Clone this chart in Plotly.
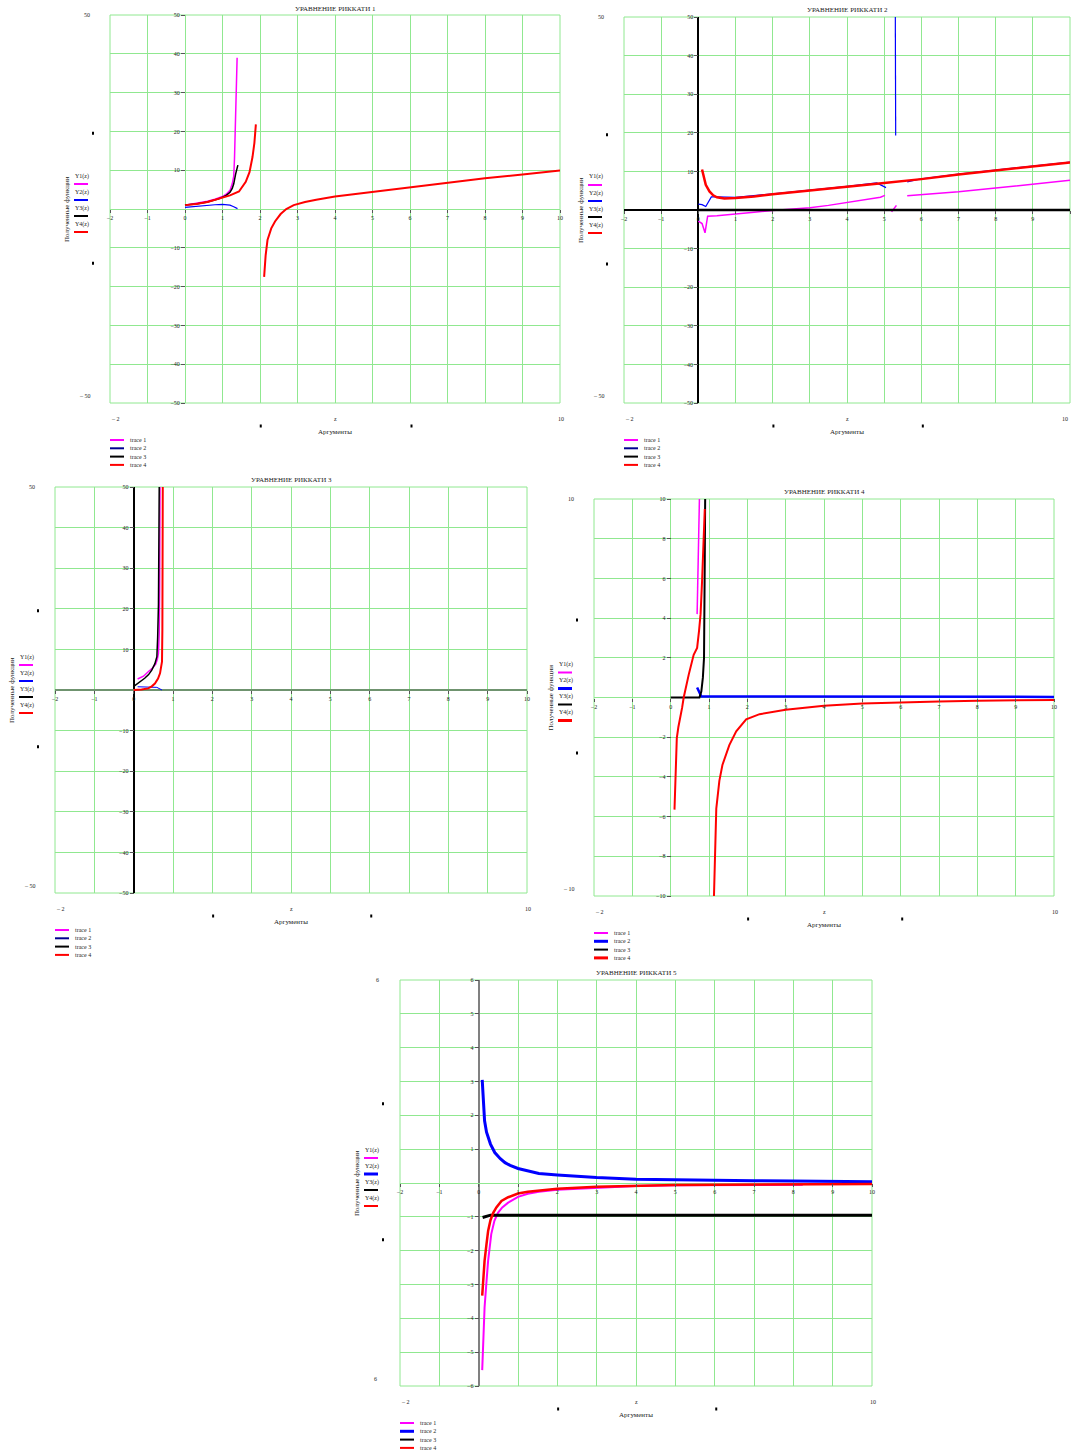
import plotly.graph_objects as go

FIG_W, FIG_H = 1072, 1454

# ------------------------------------------------------------------ data
# Plot 1
p1_y1_x = [0, 0.2, 0.4, 0.6, 0.8, 1.0, 1.1, 1.2, 1.26, 1.3, 1.32, 1.35, 1.37, 1.39]
p1_y1_y = [1.0, 1.3, 1.6, 2.0, 2.5, 3.2, 3.8, 4.8, 6.5, 8.5, 13, 22, 30, 39]
p1_y2_x = [0, 0.2, 0.4, 0.6, 0.8, 1.0, 1.1, 1.2, 1.3, 1.4]
p1_y2_y = [0.4, 0.6, 0.8, 1.0, 1.1, 1.2, 1.1, 1.0, 0.6, 0.1]
p1_y3_x = [0, 0.3, 0.6, 0.9, 1.1, 1.2, 1.26, 1.3, 1.35, 1.38, 1.41]
p1_y3_y = [1.0, 1.3, 1.8, 2.6, 3.5, 4.3, 5.3, 6.5, 9.0, 10.5, 11.3]
p1_y4_x = [0, 0.3, 0.6, 0.9, 1.2, 1.44, 1.62, 1.72, 1.8, 1.85, 1.89, None,
           2.11, 2.15, 2.2, 2.3, 2.4, 2.55, 2.7, 2.9, 3.2, 3.5, 4, 5, 6, 7, 8, 9, 10]
p1_y4_y = [1.0, 1.3, 1.8, 2.6, 3.5, 4.5, 7.0, 9.5, 13.4, 17, 21.8, None,
           -17.5, -12, -8, -5, -3.2, -1.3, 0, 1.0, 1.8, 2.4, 3.2, 4.4, 5.6, 6.8, 7.9, 8.9, 9.9]

# Plot 2
p2_y1_x = [0, 0.1, 0.18, 0.25, 0.5, 1, 1.5, 2, 2.5, 3, 3.5, 4, 4.5, 4.9, 5.02, None,
           5.2, 5.33, None, 5.62, 6, 7, 8, 9, 10]
p2_y1_y = [-2.9, -3.5, -5.9, -1.6, -1.5, -1.1, -0.6, -0.1, 0.2, 0.6, 1.2, 1.9, 2.6, 3.3, 3.8, None,
           -0.5, 1.2, None, 3.7, 4.0, 4.7, 5.7, 6.7, 7.7]
p2_y2_x = [0, 0.1, 0.2, 0.3, 0.35, 0.5, 1, 2, 3, 4, 4.8, 4.97, 5.05, None,
           5.31, 5.31, 5.30, 5.30, None, 5.62, 6, 7, 8, 9, 10]
p2_y2_y = [1.5, 1.4, 0.9, 2.5, 3.4, 3.4, 3.3, 4.2, 5.1, 6.1, 7.0, 6.2, 5.8, None,
           19.3, 38, 39, 50, None, 7.3, 8.1, 9.3, 10.3, 11.3, 12.4]
p2_y3_x = [0, 10]
p2_y3_y = [0, 0]
p2_y4_x = [0.1, 0.15, 0.2, 0.3, 0.4, 0.5, 0.7, 1.0, 1.5, 2, 3, 4, 5, 6, 7, 8, 9, 10]
p2_y4_y = [10.5, 8.5, 6.5, 4.8, 3.8, 3.3, 3.0, 3.1, 3.5, 4.1, 5.0, 6.0, 7.0, 8.0, 9.2, 10.2, 11.3, 12.3]

# Plot 3
p3_y1_x = [0.1, 0.25, 0.37, 0.48, 0.56, 0.6, 0.63, 0.65, 0.66, 0.67]
p3_y1_y = [2.7, 3.4, 4.5, 5.4, 6.4, 7.5, 9, 14, 25, 50]
p3_y2_x = [0.1, 0.3, 0.5, 0.59, 0.72]
p3_y2_y = [0.8, 0.8, 0.7, 0.65, 0.0]
p3_y3_x = [0.02, 0.15, 0.28, 0.38, 0.46, 0.54, 0.59, 0.61, 0.63, 0.65]
p3_y3_y = [1.0, 1.9, 2.9, 3.8, 4.9, 6.5, 8.2, 13, 21, 50]
p3_y4_x = [0, 0.2, 0.37, 0.46, 0.54, 0.62, 0.67, 0.7, 0.72, 0.73, 0.74]
p3_y4_y = [0, 0.1, 0.4, 0.9, 1.6, 2.8, 4.1, 5.5, 7, 15, 50]

# Plot 4
p4_y1_x = [0.69, 0.70, 0.71, 0.72, 0.735, 0.75]
p4_y1_y = [4.2, 5.3, 6.2, 7.5, 8.8, 10]
p4_y2_x = [0.69, 0.72, 0.75, 0.78, 0.8, 1, 2, 3, 4, 4.5, 5, 6, 7, 8, 9, 10]
p4_y2_y = [0.5, 0.35, 0.2, 0.08, 0.05, 0.05, 0.05, 0.05, 0.05, 0.02, 0.03, 0.03, 0.02, 0.03, 0.05, 0.03]
p4_y3_x = [0, 0.4, 0.75, 0.8, 0.84, 0.87, 0.88, 0.89, 0.9]
p4_y3_y = [0, 0, 0, 0.3, 1.0, 2.0, 3.5, 7, 10]
p4_y4_x = [0.1, 0.13, 0.16, 0.2, 0.25, 0.3, 0.34, 0.4, 0.47, 0.6, 0.69, 0.74, 0.78, 0.82, 0.87, 0.89, None,
           1.13, 1.16, 1.19, 1.27, 1.35, 1.53, 1.71, 1.97, 2.32, 3, 4, 5, 6, 7, 8, 9, 10]
p4_y4_y = [-5.65, -4.0, -2.05, -1.5, -1.04, -0.5, 0, 0.6, 1.14, 2.15, 2.5, 3.36, 4.2, 5.9, 8.4, 9.5, None,
           -10, -7.2, -5.6, -4.2, -3.4, -2.4, -1.7, -1.1, -0.84, -0.62, -0.42, -0.3, -0.24, -0.2, -0.17, -0.15, -0.12]

# Plot 5
p5_y1_x = [0.09, 0.12, 0.15, 0.2, 0.24, 0.32, 0.4, 0.49, 0.6, 0.75, 1, 1.25, 1.53, 2, 3, 4, 5, 6, 7, 8.24]
p5_y1_y = [-5.53, -4.6, -3.68, -2.9, -2.3, -1.51, -1.12, -0.88, -0.72, -0.58, -0.41, -0.32, -0.26, -0.2,
           -0.14, -0.09, -0.07, -0.06, -0.05, -0.05]
p5_y2_x = [0.09, 0.12, 0.15, 0.2, 0.24, 0.3, 0.41, 0.55, 0.67, 0.8, 1, 1.25, 1.53, 2, 2.5, 3, 4, 5, 6, 7, 8, 9, 10]
p5_y2_y = [3.05, 2.4, 1.84, 1.5, 1.34, 1.15, 0.9, 0.72, 0.6, 0.52, 0.43, 0.35, 0.28, 0.24, 0.2, 0.16,
           0.11, 0.09, 0.09, 0.07, 0.06, 0.05, 0.04]
p5_y3_x = [0.1, 0.2, 0.3, 0.5, 1, 10]
p5_y3_y = [-1.02, -0.98, -0.95, -0.95, -0.95, -0.95]
p5_y4_x = [0.09, 0.12, 0.15, 0.2, 0.24, 0.3, 0.37, 0.45, 0.58, 0.75, 1, 1.25, 1.53, 2, 3, 4, 5, 6, 8, 10]
p5_y4_y = [-3.33, -2.8, -2.3, -1.8, -1.42, -1.1, -0.88, -0.72, -0.53, -0.42, -0.31, -0.26, -0.22, -0.17,
           -0.11, -0.08, -0.06, -0.05, -0.04, -0.03]

# tick labels
x_ticks = [-2, -1, 0, 1, 2, 3, 4, 5, 6, 7, 8, 9, 10]
y_ticks_50 = [-50, -40, -30, -20, -10, 10, 20, 30, 40, 50]
y_ticks_10 = [-10, -8, -6, -4, -2, 2, 4, 6, 8, 10]
y_ticks_6 = [-6, -5, -4, -3, -2, -1, 1, 2, 3, 4, 5, 6]

titles = ["УРАВНЕНИЕ РИККАТИ 1", "УРАВНЕНИЕ РИККАТИ 2", "УРАВНЕНИЕ РИККАТИ 3",
          "УРАВНЕНИЕ РИККАТИ 4", "УРАВНЕНИЕ РИККАТИ 5"]
series_names = ["Y1(z)", "Y2(z)", "Y3(z)", "Y4(z)"]
trace_names = ["trace 1", "trace 2", "trace 3", "trace 4"]
y_title = "Полученные функции"
x_title = "Аргументы"

# ------------------------------------------------------------------ layout config
MAG, BLU, NAV, BLK, RED = "#ff00ff", "#0000ff", "#000090", "#000000", "#ff0000"
GRID = "#90e890"
FONT = "Liberation Serif"

plots = [
    dict(box=(110, 560, 15, 403), yr=(-50, 50), yt=y_ticks_50, ylim=("50", "– 50"),
         data=[(p1_y1_x, p1_y1_y), (p1_y2_x, p1_y2_y), (p1_y3_x, p1_y3_y), (p1_y4_x, p1_y4_y)],
         widths=[1.5, 1.2, 1.5, 2.0], zx=(GRID, 1), zy=(GRID, 1), rlab=0,
         leg=[(MAG, 2), (NAV, 2), (BLK, 2), (RED, 2)]),
    dict(box=(624, 1070, 17, 403), yr=(-50, 50), yt=y_ticks_50, ylim=("50", "– 50"),
         data=[(p2_y1_x, p2_y1_y), (p2_y2_x, p2_y2_y), (p2_y3_x, p2_y3_y), (p2_y4_x, p2_y4_y)],
         widths=[1.5, 1.2, 2.5, 2.5], zx=(BLK, 2), zy=(BLK, 2), rlab=-6,
         leg=[(MAG, 2), (NAV, 2), (BLK, 2), (RED, 2)]),
    dict(box=(55, 527, 487, 893), yr=(-50, 50), yt=y_ticks_50, ylim=("50", "– 50"),
         data=[(p3_y1_x, p3_y1_y), (p3_y2_x, p3_y2_y), (p3_y3_x, p3_y3_y), (p3_y4_x, p3_y4_y)],
         widths=[1.5, 1.0, 1.5, 2.0], zx=(BLK, 1.5), zy=("#6f936f", 1.5), rlab=0,
         leg=[(MAG, 2), (NAV, 2), (BLK, 2), (RED, 2)]),
    dict(box=(594, 1054, 499, 896), yr=(-10, 10), yt=y_ticks_10, ylim=("10", "– 10"),
         data=[(p4_y1_x, p4_y1_y), (p4_y2_x, p4_y2_y), (p4_y3_x, p4_y3_y), (p4_y4_x, p4_y4_y)],
         widths=[1.5, 2.5, 2.0, 2.0], zx=(GRID, 1), zy=(GRID, 1), rlab=0,
         leg=[(MAG, 2), (BLU, 3), (BLK, 2), (RED, 3)]),
    dict(box=(400, 872, 980, 1386), yr=(-6, 6), yt=y_ticks_6, ylim=("6", "6"),
         data=[(p5_y1_x, p5_y1_y), (p5_y2_x, p5_y2_y), (p5_y3_x, p5_y3_y), (p5_y4_x, p5_y4_y)],
         widths=[2.0, 3.0, 3.0, 2.5], zx=("#808080", 1.5), zy=(GRID, 1), rlab=0,
         leg=[(MAG, 2), (BLU, 3), (BLK, 2), (RED, 2)]),
]
series_colors = [MAG, BLU, BLK, RED]

fig = go.Figure()
annotations = []
shapes = []


def px(x):
    return x / FIG_W


def py(y):
    return 1 - y / FIG_H


def txt(x, y, s, size=6, xa="center", ya="middle", angle=0, color="#222"):
    annotations.append(dict(x=px(x), y=py(y), xref="paper", yref="paper", text=s, showarrow=False,
                            xanchor=xa, yanchor=ya, textangle=angle,
                            font=dict(family=FONT, size=size, color=color)))


def hline(x0, x1, y, color, w):
    shapes.append(dict(type="line", xref="paper", yref="paper", x0=px(x0), x1=px(x1), y0=py(y), y1=py(y),
                       line=dict(color=color, width=w)))


def mark(x, y):
    shapes.append(dict(type="rect", xref="paper", yref="paper", x0=px(x - 1), x1=px(x + 1),
                       y0=py(y + 1.5), y1=py(y - 1.5), fillcolor="#000", line=dict(width=0)))


XR = (-2, 10)
layout_axes = {}
for i, p in enumerate(plots):
    n = "" if i == 0 else str(i + 1)
    left, right, top, bottom = p["box"]
    w, h = right - left, bottom - top
    y0, y1 = p["yr"]
    x_zero_px = left + (0 - XR[0]) / (XR[1] - XR[0]) * w
    y_zero_px = top + (y1 - 0) / (y1 - y0) * h

    for k, (xs, ys) in enumerate(p["data"]):
        fig.add_trace(go.Scatter(x=xs, y=ys, mode="lines", name=trace_names[k],
                                 line=dict(color=series_colors[k], width=p["widths"][k]),
                                 connectgaps=False, showlegend=False,
                                 xaxis="x" + n, yaxis="y" + n))

    layout_axes["xaxis" + n] = dict(
        domain=[px(left), px(right)], range=list(XR), anchor="free", position=py(y_zero_px),
        tickmode="array", tickvals=x_ticks, showgrid=True, gridcolor=GRID, gridwidth=1,
        zeroline=True, zerolinecolor=p["zx"][0], zerolinewidth=p["zx"][1],
        showline=False, ticks="outside", ticklen=3, tickcolor="#555", tickwidth=1,
        tickfont=dict(family=FONT, size=6, color="#222"), automargin=False, fixedrange=True)
    layout_axes["yaxis" + n] = dict(
        domain=[py(bottom), py(top)], range=[y0, y1], anchor="free", position=px(x_zero_px),
        tickmode="array", tickvals=p["yt"], showgrid=True, gridcolor=GRID, gridwidth=1,
        zeroline=True, zerolinecolor=p["zy"][0], zerolinewidth=p["zy"][1],
        showline=False, ticks="outside", ticklen=4, tickcolor="#555", tickwidth=1,
        tickfont=dict(family=FONT, size=6, color="#222"), automargin=False, fixedrange=True)

    # frame of the plotting region
    shapes.append(dict(type="rect", xref="x" + n + " domain", yref="y" + n + " domain",
                       x0=0, x1=1, y0=0, y1=1, line=dict(color=GRID, width=1), layer="below"))

    cx = (left + right) / 2
    txt(cx, max(top - 7, 9), titles[i], size=7)
    # range labels outside the frame
    txt(left - 23, top, p["ylim"][0], size=6)
    txt(left - 25, bottom - 7, p["ylim"][1], size=6)
    txt(left + 5, bottom + 16, "– 2", size=6)
    txt(cx, bottom + 16, "z", size=6)
    txt(right + 1 + p["rlab"], bottom + 16, "10", size=6)
    txt(cx, bottom + 29, x_title, size=7)
    mark(left - 17, top + 0.305 * h)
    mark(left - 17, top + 0.64 * h)
    mark(left + 0.335 * w, bottom + 23)
    mark(left + 0.67 * w, bottom + 23)
    # y-axis title and series labels
    txt(left - 43, y_zero_px, y_title, size=7, angle=-90)
    for k in range(4):
        ly = y_zero_px - 33 + 16 * k
        txt(left - 28, ly, series_names[k], size=6)
        hline(left - 36, left - 22, ly + 8, series_colors[k], p["leg"][k][1])
    # trace legend below the chart
    for k in range(4):
        ry = bottom + 37 + 8.3 * k
        hline(left, left + 14, ry, p["leg"][k][0], p["leg"][k][1])
        txt(left + 18, ry, trace_names[k], size=6, xa="left")

fig.update_layout(
    width=FIG_W, height=FIG_H, margin=dict(l=0, r=0, t=0, b=0),
    paper_bgcolor="white", plot_bgcolor="white", showlegend=False,
    annotations=annotations, shapes=shapes, **layout_axes)

fig.write_html("out.html", config={"displayModeBar": False},
               post_script="document.body.style.margin='0';document.body.style.overflow='hidden';")
